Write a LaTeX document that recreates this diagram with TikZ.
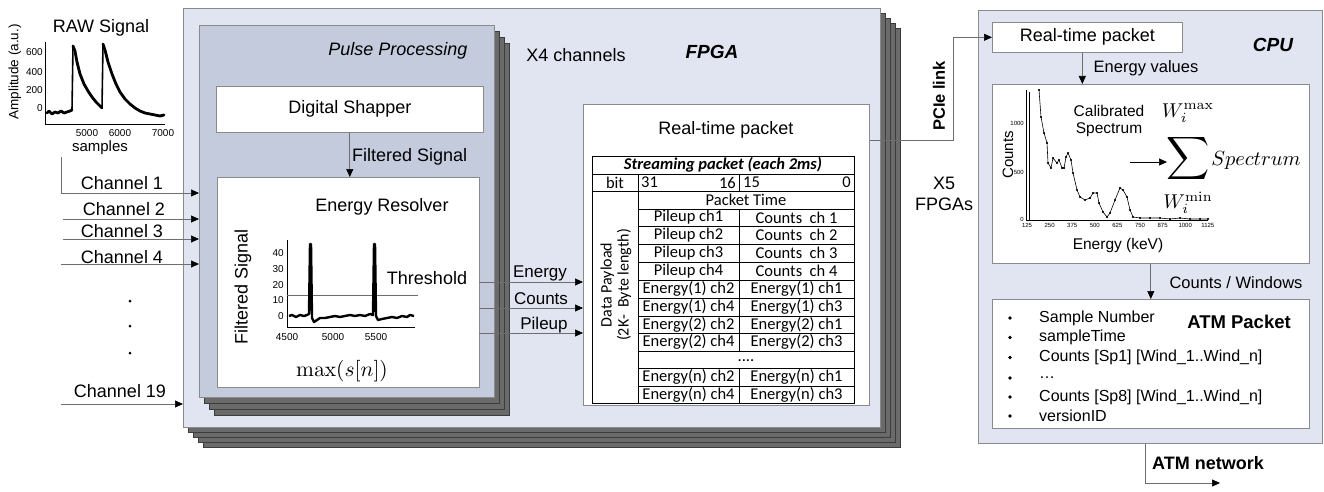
\documentclass[tikz,border=0pt]{standalone}
\usepackage[no-math]{fontspec}
\setmainfont{Liberation Sans}
\newfontfamily\calib{Carlito}
\usepackage{graphicx}
\usetikzlibrary{arrows.meta,calc}
\newcommand\fsz[1]{\fontsize{#1}{#1}\selectfont}
\definecolor{fpgabg}{HTML}{E1E5F1}
\definecolor{ppbg}{HTML}{C4CBDD}
\definecolor{shadfill}{HTML}{6A6A6A}
\definecolor{shadline}{HTML}{3C3C3C}
\definecolor{boxline}{HTML}{8A8A8A}
\definecolor{linegray}{HTML}{6E6E6E}
\begin{document}
\begin{tikzpicture}[x=1pt,y=-1pt,
 box/.style={draw=boxline,line width=0.6pt,fill=white,inner sep=0pt,anchor=north west},
 shad/.style={draw=shadline,fill=shadfill,line width=0.5pt},
 conn/.style={draw=linegray,line width=0.7pt,-{Triangle[length=8pt,width=7pt,color=black]}},
 lbl/.style={inner sep=0pt,font=\fsz{18}},
 tick/.style={inner sep=0pt,font=\fsz{10}},
 stick/.style={inner sep=0pt,font=\fsz{6}},
 cell/.style={inner sep=0pt,font=\calib\fsz{16.5}},
 tl/.style={line width=0.6pt,draw=black},
 dat/.style={line width=2.8pt,line join=round,line cap=round}]
\useasboundingbox (0,0) rectangle (1324,492);

% ---------- RAW signal plot ----------
\node[lbl] (rawt) at (101,28) {RAW Signal};
\draw[line width=0.6pt] (45,42) -- (45,124) -- (165,124);
\foreach \v/\y in {600/52,400/72,200/90,0/108} \node[tick,anchor=east] (ry\v) at (43,\y) {\v};
\foreach \v/\x in {5000/87,6000/120,7000/163} \node[tick] (rx\v) at (\x,133) {\v};
\node[lbl,font=\fsz{15}] (rawx) at (100,148) {samples};
\node[lbl,font=\fsz{13.5},rotate=90] (rawy) at (15,72) {Amplitude (a.u.)};
\draw[dat] plot coordinates {(47,113) (49,111) (52,114) (55,112) (58,113) (61,111) (64,113) (67,112) (70,111) (72,110)};
\draw[line width=1.6pt] (72,110) -- (73,46);
\draw[dat] plot coordinates {(73,46) (75,51) (77,62) (80,74) (84,84) (88,91) (92,97) (96,102) (100,106) (102,108)};
\draw[line width=1.6pt] (102,108) -- (103,44);
\draw[dat] plot coordinates {(103,44) (105,50) (108,62) (112,74) (116,84) (120,92) (125,99) (130,104) (135,108) (140,111) (145,113) (150,114) (155,115) (160,116) (164,115)};

% ---------- FPGA stack ----------
\foreach \o in {20,15,10,5} \draw[shad] ({183+\o},{8+\o}) rectangle ({880+\o},{427+\o});
\node[box,fill=fpgabg,minimum width=697pt,minimum height=419pt] (fpga) at (183,8) {};
\node[lbl,font=\bfseries\itshape\fsz{19}] (fpgat) at (712,52) {FPGA};
\node[lbl] (x4) at (576,55) {X4 channels};

% ---------- Pulse processing stack ----------
\foreach \o/\p in {15/18,10/12,5/6} \draw[shad] ({199+\o},{25+\p}) rectangle ({494+\o},{397+\p});
\node[box,fill=ppbg,minimum width=295pt,minimum height=372pt] (pp) at (199,25) {};
\node[lbl,font=\itshape\fsz{18}] (ppt) at (398,51) {Pulse Processing};
\node[box,minimum width=267pt,minimum height=46pt,font=\fsz{18}] (ds) at (216,86) {Digital Shapper};
\node[box,minimum width=262pt,minimum height=210pt] (er) at (217,177) {};
\draw[conn] (ds.south) -- (ds.south |- er.north);
\node[lbl,anchor=west] (fs) at (352,157) {Filtered Signal};
\node[lbl] (ert) at (382,207) {Energy Resolver};

% filtered signal plot
\draw[line width=0.6pt] (287,240) -- (287,327) -- (415,327);
\foreach \v/\y in {40/253,30/269,20/285,10/300,0/316} \node[tick,anchor=east] (fy\v) at (284,\y) {\v};
\foreach \v/\x in {4500/287,5000/333,5500/376} \node[tick] (fx\v) at (\x,337) {\v};
\node[lbl,rotate=90] (fsy) at (243,287) {Filtered Signal};
\draw[draw=linegray,line width=0.6pt] (287,295) -- (418,295);
\draw[line width=2.4pt,line join=round] plot coordinates {(289,316) (292,315) (296,317) (300,315) (304,316) (307,315) (309,314) (310,244) (311,244) (312,318) (314,322) (317,320) (320,318) (325,318) (330,317) (335,316) (340,317) (345,316) (350,315) (355,316) (360,315) (365,316) (370,314) (373,315) (374,244) (375,244) (376,316) (378,320) (382,319) (387,318) (392,317) (397,318) (402,316) (407,317) (410,315) (414,316)};
\node[lbl] (thr) at (427,278) {Threshold};
\node[inner sep=0pt] (maxs) at (342,371) {\scalebox{2.15}{$\max(s[n])$}};

% ---------- Real-time packet (FPGA) ----------
\node[box,minimum width=286pt,minimum height=301pt] (rtp) at (583,104) {};
\node[lbl] (rtpt) at (726,130) {Real-time packet};
% table lines
\draw[tl] (592,156) rectangle (854,403);
\foreach \y in {174,191} \draw[tl] (592,\y) -- (854,\y);
\foreach \y in {209,226,244,262,280,298,316,333,351,368,386} \draw[tl] (638,\y) -- (854,\y);
\draw[tl] (638,174) -- (638,403);
\draw[tl] (739,174) -- (739,191);
\draw[tl] (739,209) -- (739,351);
\draw[tl] (739,368) -- (739,403);
\node[cell,font=\calib\bfseries\itshape\fsz{16.5}] (sph) at (723,165) {Streaming packet (each 2ms)};
\node[cell] (bit) at (615,182.5) {bit};
\node[cell,anchor=west] (b31) at (641,182.5) {31};
\node[cell,anchor=east] (b16) at (736,182.5) {16};
\node[cell,anchor=west] (b15) at (743,182.5) {15};
\node[cell,anchor=east] (b0) at (851,182.5) {0};
\node[cell] (ptime) at (746,200) {Packet Time};
\foreach \i/\y/\a/\b in {1/217.5/Pileup ch1/Counts\ \ ch 1,2/235/Pileup ch2/Counts\ \ ch 2,3/253/Pileup ch3/Counts\ \ ch 3,4/271/Pileup ch4/Counts\ \ ch 4,5/289/Energy(1) ch2/Energy(1) ch1,6/307/Energy(1) ch4/Energy(1) ch3,7/324.5/Energy(2) ch2/Energy(2) ch1,8/342/Energy(2) ch4/Energy(2) ch3,9/377/Energy(n) ch2/Energy(n) ch1,10/394.5/Energy(n) ch4/Energy(n) ch3}
{\node[cell] (l\i) at (688.5,\y) {\a}; \node[cell] (r\i) at (796.5,\y) {\b};}
\node[cell] (dots) at (746,361) {....};
\node[cell,rotate=90,align=center,font=\calib\fsz{16}] (dpl) at (616,285) {Data Payload\\[1pt](2K-\ \ Byte length)};

% ---------- connectors inside FPGA ----------
\foreach \y/\n in {282/en,308/co,333/pu}{
  \coordinate (s\n) at (479,\y);
  \coordinate (e\n) at (583,\y);
  \draw[conn] (s\n) -- (e\n);
}
\node[lbl,font=\fsz{17}] (lenergy) at (540,273) {Energy};
\node[lbl,font=\fsz{17}] (lcounts) at (541,299) {Counts};
\node[lbl,font=\fsz{17}] (lpileup) at (544,325) {Pileup};

% ---------- channels ----------
\coordinate (c1s) at (61,157); \coordinate (c1e) at (199,193);
\coordinate (c2s) at (63,219); \coordinate (c2e) at (199,219);
\coordinate (c3s) at (63,239); \coordinate (c3e) at (199,239);
\coordinate (c4s) at (61,264); \coordinate (c4e) at (199,264);
\coordinate (c19s) at (61,404); \coordinate (c19e) at (183,404);
\draw[conn] (c1s) |- (c1e);
\draw[conn] (c2s) -- (c2e);
\draw[conn] (c3s) -- (c3e);
\draw[conn] (c4s) -- (c4e);
\draw[conn] (c19s) -- (c19e);
\node[lbl] (ch1) at (122,183) {Channel 1};
\node[lbl] (ch2) at (124,209) {Channel 2};
\node[lbl] (ch3) at (122,231) {Channel 3};
\node[lbl] (ch4) at (122,257) {Channel 4};
\node[lbl] (ch19) at (120,391) {Channel 19};
\foreach \y in {301,326,353} \fill (130,\y) circle (1.5);

% ---------- PCIe link ----------
\node[box,fill=fpgabg,minimum width=344pt,minimum height=433pt] (cpu) at (978,10) {};
\node[box,minimum width=190pt,minimum height=30pt,font=\fsz{18}] (cpurt) at (992,22) {Real-time packet};
\coordinate (pcs) at ($(rtp.north east)+(0,36)$);
\draw[conn] (pcs) -- ++(84,0) |- (cpurt.west);
\node[lbl,rotate=90,font=\bfseries\fsz{16.5}] (pcie) at (939,96) {PCIe link};
\node[lbl,align=center] (x5) at (944,194) {X5\\[3pt]FPGAs};

% ---------- CPU ----------
\node[lbl,font=\bfseries\itshape\fsz{19}] (cput) at (1273,45) {CPU};
\node[box,minimum width=317pt,minimum height=179pt] (spec) at (992,84) {};
\coordinate (evs) at ($(cpurt.south)+(-5,0)$);
\draw[conn] (evs) -- (evs |- spec.north);
\node[lbl,font=\fsz{16.5}] (ev) at (1146,68) {Energy values};
% spectrum plot
\draw[line width=0.5pt] (1026,90) -- (1026,220) -- (1208,220);
\draw[line width=0.5pt] (1029,220) -- (1029,92);
\foreach \v/\y in {1000/123,500/172,0/219} \node[stick,anchor=east] (sy\v) at (1024,\y) {\v};
\foreach \v [count=\i from 0] in {125,250,375,500,625,750,875,1000,1125} \node[stick] (sx\v) at ({1027+\i*22.6},225) {\v};
\node[lbl,rotate=90,font=\fsz{15}] (scnt) at (1008,155) {Counts};
\node[lbl,font=\fsz{15.5}] (sen) at (1118,245) {Energy (keV)};
\draw[line width=0.6pt,mark=*,mark size=0.75pt] plot coordinates {(1039,90) (1041,117) (1044,133) (1047,143) (1048,163) (1051,168) (1053,158) (1057,163) (1059,160) (1062,168) (1064,168) (1066,157) (1068,153) (1071,160) (1073,173) (1077,190) (1080,197) (1085,200) (1090,198) (1093,193) (1097,193) (1099,203) (1103,212) (1107,217) (1110,213) (1115,200) (1120,188) (1123,190) (1127,197) (1130,210) (1133,217) (1140,218) (1150,218) (1160,218) (1170,219) (1180,218) (1190,219) (1200,219) (1208,219)};
\node[lbl,align=center,font=\fsz{15.5}] (cal) at (1109,121) {Calibrated\\[2pt]Spectrum};
\coordinate (ca1) at (1130,162); \coordinate (ca2) at (1167,162);
\draw[conn,draw=black] (ca1) -- (ca2);
\node[inner sep=0pt] (sig) at (1188,159) {\scalebox{3.0}{$\displaystyle\sum$}};
\node[inner sep=0pt] (wmax) at (1188,113) {\scalebox{2.0}{$W_i^{\max}$}};
\node[inner sep=0pt] (wmin) at (1188,203) {\scalebox{2.0}{$W_i^{\min}$}};
\node[inner sep=0pt] (sptx) at (1256,160) {\scalebox{2.05}{$Spectrum$}};

% ---------- ATM packet ----------
\node[box,minimum width=317pt,minimum height=129pt] (atm) at (992,299) {};
\draw[conn] (spec.south) -- (spec.south |- atm.north);
\node[lbl,font=\fsz{16.5}] (cw) at (1236,283) {Counts / Windows};
\node[lbl,font=\bfseries\fsz{18.5}] (atmt) at (1239,322) {ATM Packet};
\foreach \i/\y/\t in {1/318/Sample Number,2/337.5/sampleTime,3/357.5/{Counts [Sp1] [Wind\_1..Wind\_n]},4/378/…,5/397/{Counts [Sp8] [Wind\_1..Wind\_n]},6/416/versionID}
{\fill (1010,\y) circle (1.9); \node[lbl,anchor=west,font=\fsz{16}] (it\i) at (1039,\y) {\t};}

% ---------- ATM network ----------
\coordinate (ans) at ($(cpu.south)+(-5,0)$);
\coordinate (ane) at (1220,483);
\draw[conn] (ans) |- (ane);
\node[lbl,font=\bfseries\fsz{18}] (atmn) at (1208,463) {ATM network};
\end{tikzpicture}
\end{document}
